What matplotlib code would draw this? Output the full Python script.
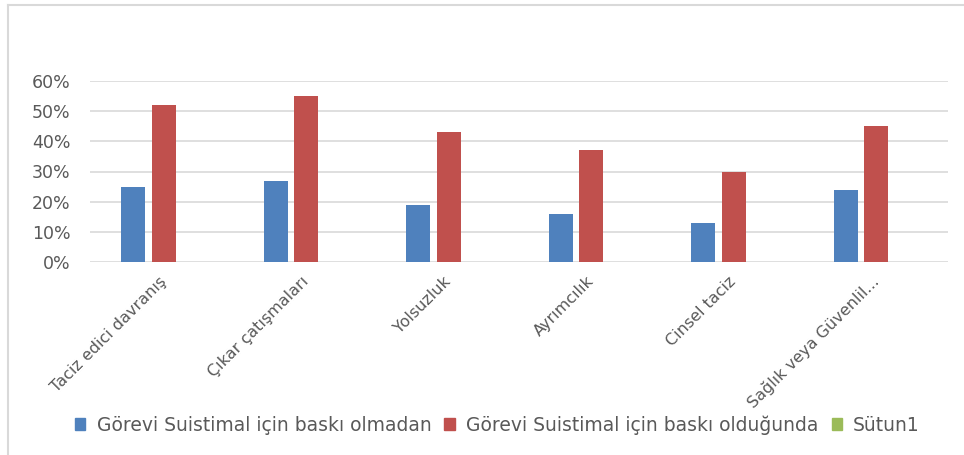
import matplotlib
matplotlib.use("Agg")
import matplotlib.pyplot as plt
import matplotlib.transforms as mtransforms
from matplotlib.patches import Patch
from matplotlib.lines import Line2D
import numpy as np

kategoriler = ["Taciz edici davranış", "Çıkar çatışmaları", "Yolsuzluk",
               "Ayrımcılık", "Cinsel taciz", "Sağlık veya Güvenlil..."]
baski_yok = [0.25, 0.27, 0.19, 0.16, 0.13, 0.24]
baski_var = [0.52, 0.55, 0.43, 0.37, 0.30, 0.45]
seri_adlari = ["Görevi Suistimal için baskı olmadan",
               "Görevi Suistimal için baskı olduğunda", "Sütun1"]
renkler = ["#4F81BD", "#C0504D", "#9BBB59"]
yuzde_etiket = ["0%", "10%", "20%", "30%", "40%", "50%", "60%"]

plt.rcParams["font.family"] = ["DejaVu Sans"]
gri = "#595959"

fig = plt.figure(figsize=(9.64, 4.55), dpi=100)
ax = fig.add_axes([90 / 964, 1 - 262 / 455, 858 / 964, 181 / 455])

x = np.arange(len(kategoriler))
w = 0.17
ax.bar(x - 0.107, baski_yok, width=w, color=renkler[0], zorder=3)
ax.bar(x + 0.107, baski_var, width=w, color=renkler[1], zorder=3)

ax.set_xlim(-0.41, 5.61)
ax.set_ylim(0, 0.6)
ax.set_yticks(np.arange(0, 0.61, 0.1))
ax.set_yticklabels(yuzde_etiket, color=gri, fontsize=12.5)
ax.yaxis.grid(True, color="#D9D9D9", linewidth=1.2, zorder=0)
ax.tick_params(axis="y", length=0, pad=14)
ax.tick_params(axis="x", length=0, pad=2)
for s in ax.spines.values():
    s.set_visible(False)

ax.set_xticks(x)
ax.set_xticklabels(kategoriler, rotation=45, ha="right", va="top",
                   rotation_mode="anchor", color=gri, fontsize=11.5)
offset = mtransforms.ScaledTranslation(10 / 100, -9 / 100, fig.dpi_scale_trans)
for lbl in ax.get_xticklabels():
    lbl.set_transform(lbl.get_transform() + offset)

handles = [Patch(color=c) for c in renkler]
fig.legend(handles, seri_adlari, loc="center", bbox_to_anchor=(0.516, 1 - 425 / 455),
           ncol=3, frameon=False, fontsize=13.5, labelcolor=gri,
           handlelength=0.55, handleheight=0.55, handletextpad=0.6,
           columnspacing=0.7)

# dış çerçeve
fig.add_artist(Line2D([8 / 964, 8 / 964], [0, 1 - 5 / 455], transform=fig.transFigure,
                      color="#D9D9D9", linewidth=1.5))
fig.add_artist(Line2D([8 / 964, 1], [1 - 5 / 455, 1 - 5 / 455], transform=fig.transFigure,
                      color="#D9D9D9", linewidth=1.5))

fig.savefig("out.png", dpi=100)
